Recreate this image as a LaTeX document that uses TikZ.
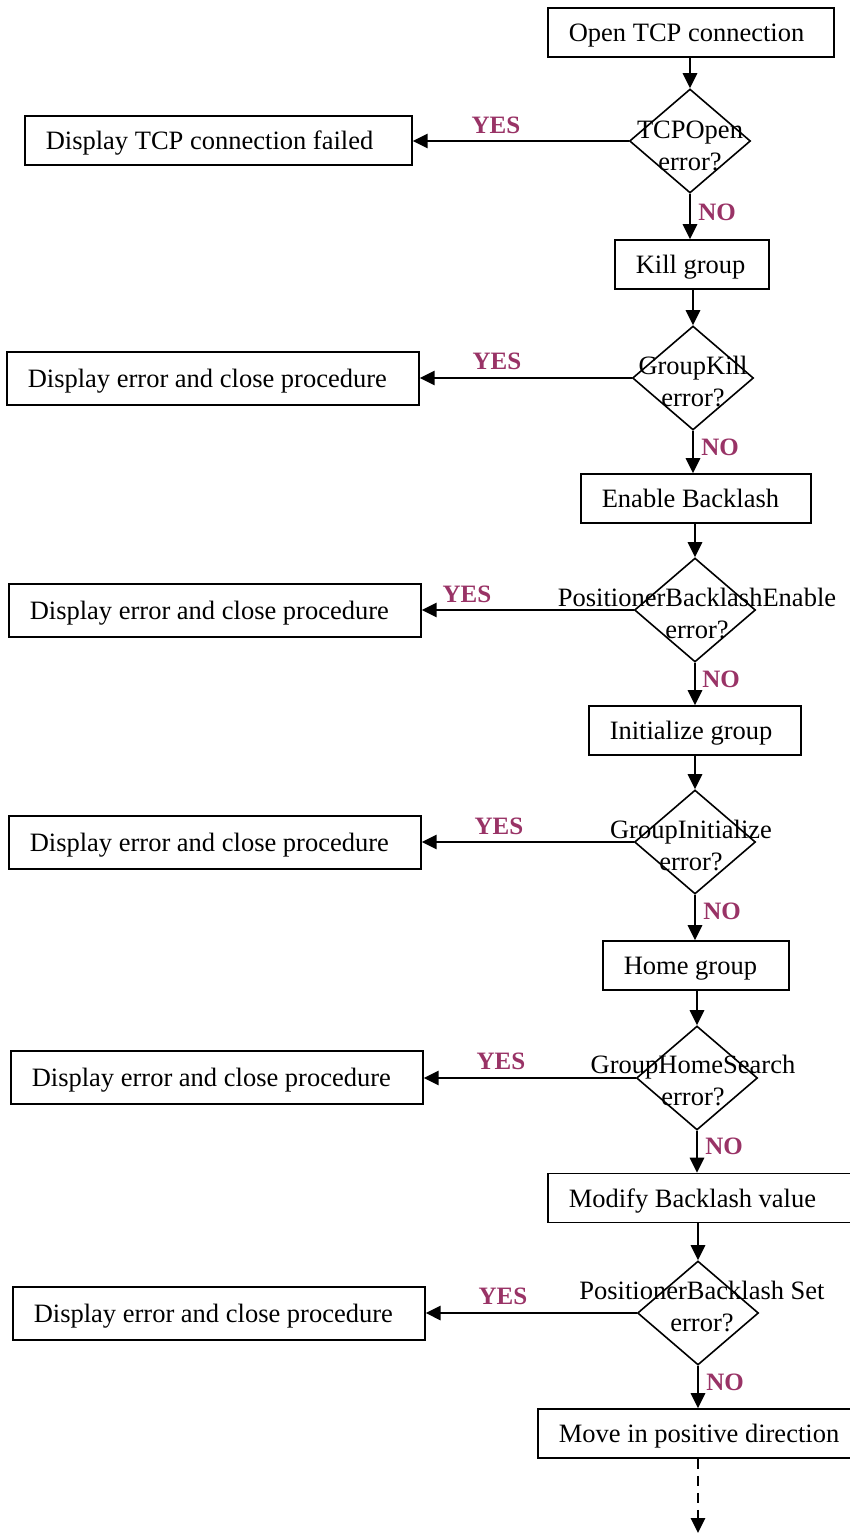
\documentclass[tikz,border=0pt]{standalone}
\usepackage{fontspec}
\setmainfont{Liberation Serif}
\usetikzlibrary{shapes.geometric,arrows.meta}
\definecolor{lbl}{RGB}{153,51,102}
\begin{document}
\begin{tikzpicture}[x=1pt,y=-1pt,
  every node/.style={font=\fontsize{26.5}{32}\selectfont},
  lbox/.style={draw, line width=1.6pt, anchor=west, inner ysep=0pt, inner xsep=21pt, minimum height=49pt, align=flush left, text height=20pt, text depth=1.5pt, text width=#1-42pt},
  dia/.style={draw, diamond, line width=1.6pt, inner sep=0pt, minimum width=121pt, minimum height=104pt},
  dtext/.style={align=center, inner sep=0pt},
  conn/.style={line width=2.8pt, -{Triangle[length=15pt,width=14pt]}},
  yn/.style={text=lbl, font=\fontsize{25}{26}\selectfont\bfseries, inner sep=0pt}
]
\useasboundingbox (0,0) rectangle (850,1534);
\fill[white] (0,0) rectangle (850,1534);

% main column
\node[lbox=286pt] (b1) at (547,32.5) {Open TCP connection};
\node[dia] (d1) at (690,141) {};
\node[dtext] (t1) at (690,146) {TCPOpen\\error?};
\node[lbox=387pt] (f1) at (24,140.5) {Display TCP connection failed};

\node[lbox=154pt] (b2) at (614,264.5) {Kill group};
\node[dia] (d2) at (693,378) {};
\node[dtext] (t2) at (693,381) {GroupKill\\error?};
\node[lbox=412pt, minimum height=53pt] (f2) at (6,378.5) {Display error and close procedure};

\node[lbox=230pt] (b3) at (580,498.5) {Enable Backlash};
\node[dia] (d3) at (695,610) {};
\node[dtext] (t3) at (697,613) {PositionerBacklashEnable\\error?};
\node[lbox=412pt, minimum height=53pt] (f3) at (8,610.5) {Display error and close procedure};

\node[lbox=212pt] (b4) at (588,730.5) {Initialize group};
\node[dia] (d4) at (695,842) {};
\node[dtext] (t4) at (691,845) {GroupInitialize\\error?};
\node[lbox=412pt, minimum height=53pt] (f4) at (8,842.5) {Display error and close procedure};

\node[lbox=186pt] (b5) at (602,965.5) {Home group};
\node[dia] (d5) at (697,1078) {};
\node[dtext] (t5) at (693,1080) {GroupHomeSearch\\error?};
\node[lbox=412pt, minimum height=53pt] (f5) at (10,1077.5) {Display error and close procedure};

\node[lbox=312pt] (b6) at (547,1198) {Modify Backlash value};
\node[dia] (d6) at (698,1313) {};
\node[dtext] (t6) at (702,1306) {PositionerBacklash Set\\error?};
\node[lbox=412pt, minimum height=53pt] (f6) at (12,1313.5) {Display error and close procedure};

\node[lbox=342pt] (b7) at (537,1433.5) {Move in positive direction};
\coordinate (end) at (698,1533);

% connectors
\draw[conn] (b1.south -| d1.north) -- (d1.north);
\draw[conn] (d1.west) -- (f1.east |- d1.west);
\draw[conn] (d1.south) -- (b2.north -| d1.south);
\draw[conn] (b2.south -| d2.north) -- (d2.north);
\draw[conn] (d2.west) -- (f2.east |- d2.west);
\draw[conn] (d2.south) -- (b3.north -| d2.south);
\draw[conn] (b3.south -| d3.north) -- (d3.north);
\draw[conn] (d3.west) -- (f3.east |- d3.west);
\draw[conn] (d3.south) -- (b4.north -| d3.south);
\draw[conn] (b4.south -| d4.north) -- (d4.north);
\draw[conn] (d4.west) -- (f4.east |- d4.west);
\draw[conn] (d4.south) -- (b5.north -| d4.south);
\draw[conn] (b5.south -| d5.north) -- (d5.north);
\draw[conn] (d5.west) -- (f5.east |- d5.west);
\draw[conn] (d5.south) -- (b6.north -| d5.south);
\draw[conn] (b6.south -| d6.north) -- (d6.north);
\draw[conn] (d6.west) -- (f6.east |- d6.west);
\draw[conn] (d6.south) -- (b7.north -| d6.south);
\draw[conn, dash pattern=on 10pt off 7pt] (b7.south -| end) -- (end);

% labels
\node[yn] (y1) at (496,125) {YES};
\node[yn] (y2) at (497,361) {YES};
\node[yn] (y3) at (467,594) {YES};
\node[yn] (y4) at (499,826) {YES};
\node[yn] (y5) at (501,1061) {YES};
\node[yn] (y6) at (503,1296) {YES};
\node[yn] (n1) at (717,212) {NO};
\node[yn] (n2) at (720,447) {NO};
\node[yn] (n3) at (721,679) {NO};
\node[yn] (n4) at (722,911) {NO};
\node[yn] (n5) at (724,1146) {NO};
\node[yn] (n6) at (725,1382) {NO};
\end{tikzpicture}
\end{document}
